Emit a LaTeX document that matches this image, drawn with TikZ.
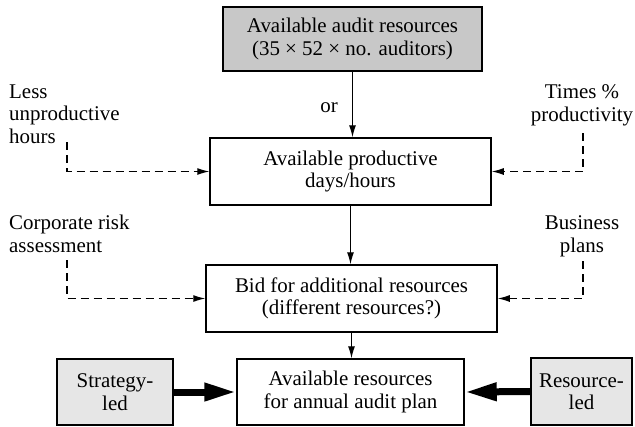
\documentclass[tikz,border=0pt]{standalone}
\usepackage{fontspec}
\setmainfont{Liberation Serif}
\usetikzlibrary{arrows.meta}
\definecolor{boxgray}{HTML}{C8C8C8}
\definecolor{lightgray}{HTML}{E6E6E6}
\begin{document}
\begin{tikzpicture}[x=1bp,y=-1bp,
  every node/.style={font=\fontsize{21}{22.5}\selectfont},
  box/.style={draw, line width=1.5bp, align=center, inner sep=0pt},
  flow/.style={line width=1.1bp, -{Latex[length=12bp,width=7bp]}},
  feed/.style={line width=1.1bp, dash pattern=on 8bp off 5bp, -{Latex[length=12bp,width=7bp]}},
  push/.style={line width=7bp, -{Triangle[length=32bp,width=17bp]}},
  label/.style={inner sep=0pt}]
\useasboundingbox (0,0) rectangle (635,426);

% main chain
\node[box, fill=boxgray, minimum width=259bp, minimum height=64bp] (avail) at (352.5,39)
  {Available audit resources\\(35 × 52 × no. auditors)};
\node[box, minimum width=281bp, minimum height=67bp] (prod) at (350.5,171.5)
  {Available productive\\days/hours};
\node[box, minimum width=291bp, minimum height=67bp] (bid) at (351.5,298.5)
  {Bid for additional resources\\(different resources?)};
\node[box, minimum width=227bp, minimum height=66bp] (plan) at (350.5,392)
  {Available resources\\for annual audit plan};

% side drivers
\node[box, fill=lightgray, minimum width=116bp, minimum height=66bp] (strat) at (115,392)
  {Strategy-\\led};
\node[box, fill=lightgray, minimum width=101bp, minimum height=67bp] (res) at (581.5,391.5)
  {Resource-\\led};

% adjustments (base anchor = last line)
\node[label, anchor=base east] (or) at (338,112) {or};
\node[label, anchor=base west, align=left] (less) at (9,143) {Less\\unproductive\\hours};
\node[label, anchor=base, align=center] (times) at (582,121) {Times \%\\productivity};
\node[label, anchor=base west, align=left] (corp) at (9,252) {Corporate risk\\assessment};
\node[label, anchor=base, align=center] (bus) at (582,252) {Business\\plans};

\coordinate (lessA) at (67,142);
\coordinate (timesA) at (583,133);
\coordinate (corpA) at (67,260);
\coordinate (busA) at (583,261);

% solid flow
\draw[flow] (avail.south) -- (avail.south |- prod.north);
\draw[flow] (prod.south) -- (prod.south |- bid.north);
\draw[flow] (bid.south) -- (bid.south |- plan.north);

% dashed inputs
\draw[feed] (lessA) |- (prod.west);
\draw[feed] (timesA) |- (prod.east);
\draw[feed] (corpA) |- (bid.west);
\draw[feed] (busA) |- (bid.east);

% heavy arrows
\draw[push] (strat.east) -- (plan.west);
\draw[push] (res.west) -- (plan.east);
\end{tikzpicture}
\end{document}
